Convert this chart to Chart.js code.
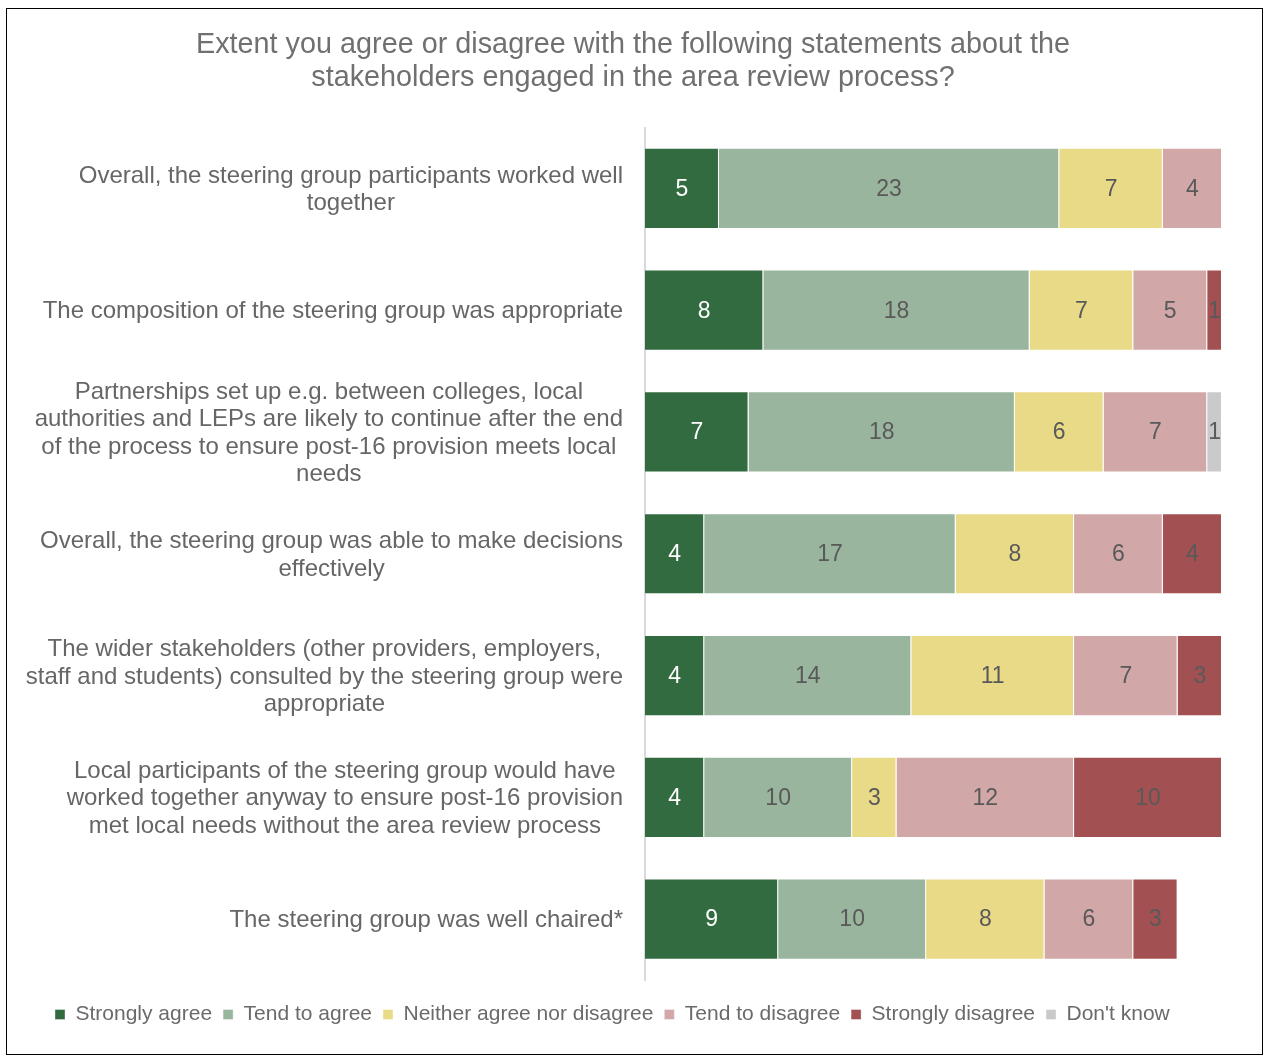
<!DOCTYPE html>
<html>
<head>
<meta charset="utf-8">
<script src="https://cdn.jsdelivr.net/npm/chart.js@4"></script>
<style>
  html, body { margin: 0; padding: 0; background: #fff; }
  #frame { position: absolute; left: 6px; top: 8px; width: 1257px; height: 1047px; border: 1.5px solid #000; box-sizing: border-box; }
  #wrap { position: absolute; left: 0; top: 0; width: 1266px; height: 1059px; }
</style>
</head>
<body>
<div id="wrap"><canvas id="c" width="1266" height="1059"></canvas></div>
<div id="frame"></div>
<script>
const categories = [
  ["Overall, the steering group participants worked well", "together"],
  ["The composition of the steering group was appropriate"],
  ["Partnerships set up e.g. between colleges, local", "authorities and LEPs are likely to continue after the end", "of the process to ensure post-16 provision meets local", "needs"],
  ["Overall, the steering group was able to make decisions", "effectively"],
  ["The wider stakeholders (other providers, employers,", "staff and students) consulted by the steering group were", "appropriate"],
  ["Local participants of the steering group would have", "worked together anyway to ensure post-16 provision", "met local needs without the area review process"],
  ["The steering group was well chaired*"]
];
const seriesNames = ["Strongly agree", "Tend to agree", "Neither agree nor disagree", "Tend to disagree", "Strongly disagree", "Don't know"];
const stronglyAgree    = [5, 8, 7, 4, 4, 4, 9];
const tendToAgree      = [23, 18, 18, 17, 14, 10, 10];
const neither          = [7, 7, 6, 8, 11, 3, 8];
const tendToDisagree   = [4, 5, 7, 6, 7, 12, 6];
const stronglyDisagree = [0, 1, 0, 4, 3, 10, 3];
const dontKnow         = [0, 0, 1, 0, 0, 0, 0];
const xMax = 39;

const seriesData = [stronglyAgree, tendToAgree, neither, tendToDisagree, stronglyDisagree, dontKnow];
const colors = ["#336B41", "#9AB59E", "#E8DA87", "#D2A7A8", "#A35052", "#CACACA"];
const labelColors = ["#ffffff", "#595959", "#595959", "#595959", "#595959", "#595959"];

const FONT = "'Liberation Sans', Arial, sans-serif";

const valueLabels = {
  id: 'valueLabels',
  afterDatasetsDraw(chart) {
    const ctx = chart.ctx;
    ctx.save();
    ctx.font = "23px " + FONT;
    ctx.textAlign = 'center';
    ctx.textBaseline = 'middle';
    chart.data.datasets.forEach((ds, i) => {
      const meta = chart.getDatasetMeta(i);
      meta.data.forEach((el, j) => {
        const v = ds.data[j];
        if (!v) return;
        const p = el.getProps(['x', 'base', 'y'], true);
        ctx.fillStyle = labelColors[i];
        ctx.fillText(String(v), (p.x + p.base) / 2, p.y + 1);
      });
    });
    ctx.restore();
  }
};

const yLabels = {
  id: 'yLabels',
  afterDraw(chart) {
    const ctx = chart.ctx;
    const sc = chart.scales.y;
    ctx.save();
    ctx.font = "24px " + FONT;
    ctx.fillStyle = '#666666';
    ctx.textBaseline = 'middle';
    ctx.textAlign = 'center';
    const lh = 27.6;
    const rightX = sc.right - 22;
    categories.forEach((lines, i) => {
      const y = sc.getPixelForTick(i);
      const w = Math.max(...lines.map(l => ctx.measureText(l).width));
      const cx = rightX - w / 2;
      const y0 = y - (lines.length - 1) * lh / 2;
      lines.forEach((l, k) => ctx.fillText(l, cx, y0 + k * lh + 1.5));
    });
    ctx.restore();
  }
};

new Chart(document.getElementById('c'), {
  type: 'bar',
  data: {
    labels: categories,
    datasets: seriesNames.map((name, i) => ({
      label: name,
      data: seriesData[i],
      backgroundColor: colors[i],
      borderColor: 'rgba(255,255,255,0.35)',
      borderWidth: 1,
      barPercentage: 0.667,
      categoryPercentage: 1
    }))
  },
  options: {
    indexAxis: 'y',
    responsive: false,
    animation: false,
    devicePixelRatio: 1,
    layout: { padding: { top: 28.5, right: 44, bottom: 24, left: 44 } },
    scales: {
      x: {
        stacked: true, min: 0, max: xMax, display: true,
        grid: { display: false },
        border: { display: false },
        ticks: { display: false },
        afterFit: (s) => { s.height = 13; }
      },
      y: {
        stacked: true,
        afterFit: (s) => { s.width = 601; },
        grid: { display: false },
        border: { display: true, color: '#d9d9d9', width: 2 },
        ticks: { display: false }
      }
    },
    plugins: {
      title: {
        display: true,
        text: ["Extent you agree or disagree with the following statements about the", "stakeholders engaged in the area review process?"],
        color: '#707070',
        font: { family: FONT, size: 28.8, weight: 'normal', lineHeight: 1.146 },
        padding: { top: 0, bottom: 33 }
      },
      legend: {
        position: 'bottom',
        align: 'start',
        labels: {
          color: '#6a6a6a',
          font: { family: FONT, size: 21 },
          boxWidth: 10,
          boxHeight: 10,
          padding: 11
        }
      },
      tooltip: { enabled: false }
    }
  },
  plugins: [valueLabels, yLabels]
});
</script>
</body>
</html>
